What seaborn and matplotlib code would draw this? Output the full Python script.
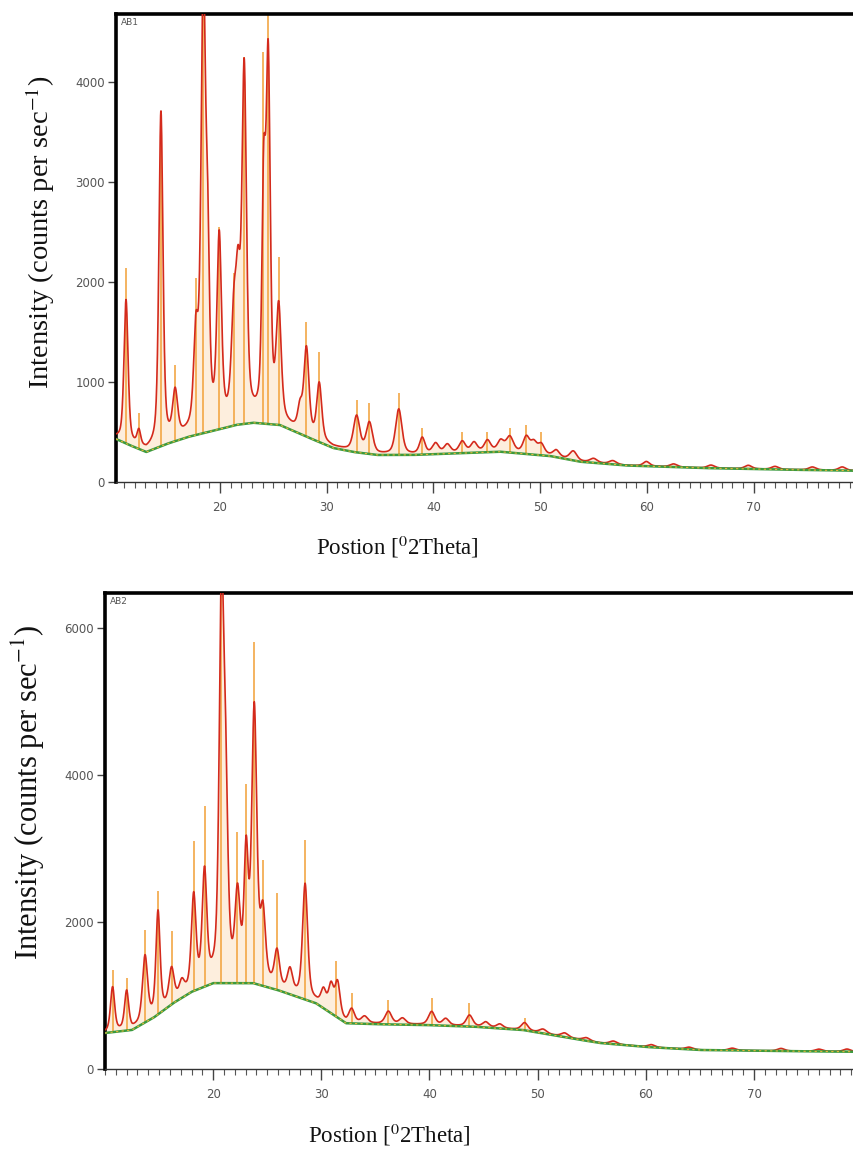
import numpy as np
import pandas as pd
import matplotlib
matplotlib.use("Agg")
import matplotlib.pyplot as plt
from matplotlib.ticker import MultipleLocator
import seaborn as sns

# ---------------- AB1 data ----------------
ab1_bg_pos = [10.0, 10.26, 11.5, 13.1, 15.0, 17.0, 19.7, 21.5, 23.1, 25.6, 28.1, 30.6, 32.5, 34.7,
              38.0, 42.0, 46.2, 50.9, 53.7, 58.0, 65.0, 72.0, 80.0]
ab1_bg_val = [440, 430, 370, 300, 380, 450, 520, 570, 592, 570, 453, 340, 300, 270,
              270, 285, 303, 260, 203, 165, 140, 125, 112]
ab1_peak_pos = [11.2, 12.4, 14.47, 15.8, 17.75, 18.44, 18.85, 19.93, 21.3, 21.7, 22.27, 24.1, 24.52,
                25.5, 27.5, 28.1, 29.3, 32.8, 34.0, 36.75, 38.95, 40.2, 41.3, 42.7, 43.8, 45.06,
                46.3, 47.15, 48.7, 49.4, 50.1, 51.5, 53.1, 55.0, 56.8, 59.95, 62.5, 66.0, 69.5,
                72.0, 75.5, 78.3]
ab1_peak_net = [1420, 150, 3320, 450, 900, 4400, 1500, 1840, 950, 1150, 3450, 2200, 3500,
                1100, 220, 850, 560, 350, 300, 450, 160, 100, 85, 110, 95, 110,
                100, 150, 160, 110, 100, 65, 90, 40, 35, 45, 30, 30, 35,
                30, 30, 35]
ab1_peak_fwhm = [0.45, 0.40, 0.45, 0.55, 0.50, 0.50, 0.40, 0.50, 0.55, 0.50, 0.50, 0.40, 0.45,
                 0.55, 0.50, 0.55, 0.55, 0.70, 0.70, 0.70, 0.60, 0.70, 0.70, 0.70, 0.70, 0.70,
                 0.70, 0.80, 0.70, 0.70, 0.70, 0.70, 0.80, 0.80, 0.80, 0.70, 0.80, 0.80, 0.80,
                 0.80, 0.80, 0.80]
ab1_stick_pos = [11.2, 12.4, 14.47, 15.8, 17.75, 18.44, 19.93, 21.3, 22.27, 24.05, 24.52, 25.5,
                 28.1, 29.3, 32.8, 34.0, 36.75, 38.95, 42.7, 45.06, 47.15, 48.7, 50.1]
ab1_stick_top = [2135, 686, 3700, 1169, 2035, 4700, 2550, 2085, 4250, 4300, 4700, 2250,
                 1600, 1300, 820, 790, 886, 536, 503, 503, 536, 570, 503]

# ---------------- AB2 data ----------------
ab2_bg_pos = [10.0, 10.3, 12.5, 14.5, 16.3, 18.0, 20.0, 23.7, 25.9, 29.5, 32.3, 35.0, 39.4,
              44.0, 48.6, 52.9, 55.7, 60.0, 64.9, 72.0, 80.0]
ab2_bg_val = [490, 495, 532, 700, 896, 1050, 1169, 1169, 1078, 896, 623, 610, 600,
              577, 532, 423, 355, 300, 259, 245, 234]
ab2_peak_pos = [10.7, 12.0, 13.7, 14.9, 16.15, 17.1, 18.2, 19.2, 20.77, 21.15, 22.25, 23.05, 23.8,
                24.6, 25.9, 27.1, 28.5, 30.2, 30.9, 31.5, 32.8, 34.0, 36.2, 37.5, 40.2, 41.5,
                43.7, 45.2, 46.5, 48.8, 50.5, 52.5, 54.5, 57.0, 60.5, 64.0, 68.0, 72.5, 76.0, 78.6]
ab2_peak_net = [600, 520, 880, 1370, 450, 180, 1250, 1500, 5100, 2300, 1100, 1650, 3660,
                900, 480, 300, 1550, 220, 350, 450, 180, 90, 170, 80, 180, 90,
                150, 70, 55, 100, 55, 55, 40, 40, 35, 30, 30, 35, 30, 35]
ab2_peak_fwhm = [0.45, 0.45, 0.55, 0.45, 0.55, 0.55, 0.50, 0.50, 0.50, 0.50, 0.55, 0.45, 0.55,
                 0.55, 0.55, 0.55, 0.55, 0.55, 0.55, 0.55, 0.60, 0.70, 0.70, 0.70, 0.70, 0.70,
                 0.70, 0.70, 0.70, 0.70, 0.80, 0.80, 0.80, 0.80, 0.80, 0.80, 0.80, 0.80, 0.80, 0.80]
ab2_stick_pos = [10.7, 12.0, 13.7, 14.9, 16.15, 18.25, 19.2, 20.77, 22.25, 23.0, 23.8, 24.6,
                 25.9, 28.5, 31.4, 32.8, 36.2, 40.2, 43.7, 48.8]
ab2_stick_top = [1350, 1236, 1896, 2420, 1873, 3100, 3580, 6500, 3220, 3875, 5810, 2851,
                 2397, 3120, 1464, 1032, 941, 964, 896, 692]

AX_LABEL_X = "Postion [$^{0}$2Theta]"
AX_LABEL_Y = "Intensity (counts per sec$^{-1}$)"


def profile(x, bg_pos, bg_val, pos, net, fwhm, eta=0.5):
    bg = np.interp(x, bg_pos, bg_val)
    y = bg.copy()
    for p, h, w in zip(pos, net, fwhm):
        d = (x - p) / (w / 2)
        g = np.exp(-np.log(2) * d ** 2)
        l = 1.0 / (1.0 + d ** 2)
        y += h * (eta * l + (1 - eta) * g)
    return bg, y


sns.set_theme(style="ticks")
plt.rcParams["mathtext.fontset"] = "stix"
plt.rcParams["font.family"] = ["DejaVu Sans"]

fig = plt.figure(figsize=(8.54, 11.53), dpi=100)
W, H = 854, 1153


def make_axes(left_px, top_px, bottom_px):
    return fig.add_axes([left_px / W, 1 - bottom_px / H, 1 - left_px / W, (bottom_px - top_px) / H])


ax1 = make_axes(116, 14, 482)
ax2 = make_axes(105, 593, 1069)

x = np.arange(10.0, 80.0, 0.02)

panels = [
    (ax1, "AB1", ab1_bg_pos, ab1_bg_val, ab1_peak_pos, ab1_peak_net, ab1_peak_fwhm,
     ab1_stick_pos, ab1_stick_top, (10.26, 79.4), 4675, [0, 1000, 2000, 3000, 4000],
     (-0.080, 0.533), (0.381, -0.110), 20.5),
    (ax2, "AB2", ab2_bg_pos, ab2_bg_val, ab2_peak_pos, ab2_peak_net, ab2_peak_fwhm,
     ab2_stick_pos, ab2_stick_top, (10.0, 79.25), 6480, [0, 2000, 4000, 6000],
     (-0.077, 0.582), (0.38, -0.110), 22),
]

for (ax, name, bgp, bgv, pp, pn, pw, sp, st, xlim, ytop, yticks, ylab_xy, xlab_xy, yfs) in panels:
    bg, y = profile(x, bgp, bgv, pp, pn, pw)
    df = pd.DataFrame({"pos": x, "counts": y, "bg": bg})
    ax.fill_between(df["pos"], df["bg"], df["counts"], color="#f9c98f", alpha=0.3, lw=0)
    bg_at = np.interp(sp, bgp, bgv)
    ax.vlines(sp, bg_at, st, color="#f2a541", lw=1.3, alpha=0.9, zorder=2)
    sns.lineplot(data=df, x="pos", y="counts", ax=ax, color="#d42a1c", lw=1.2,
                 zorder=3, estimator=None, sort=False)
    sns.lineplot(data=df, x="pos", y="bg", ax=ax, color="#3a9a3e", lw=1.8,
                 zorder=4, estimator=None, sort=False)
    ax.plot(df["pos"], df["bg"], color="#e9b73a", lw=0.8, ls=(0, (2, 3)), zorder=5)

    ax.set_xlim(*xlim)
    ax.set_ylim(0, ytop)
    ax.set_yticks(yticks)
    ax.xaxis.set_major_locator(MultipleLocator(10))
    ax.xaxis.set_minor_locator(MultipleLocator(1))
    ax.set_xticks([20, 30, 40, 50, 60, 70])

    for s in ["left", "top"]:
        ax.spines[s].set_linewidth(2.6)
        ax.spines[s].set_color("black")
    ax.spines["bottom"].set_linewidth(1.0)
    ax.spines["bottom"].set_color("#333333")
    ax.spines["right"].set_visible(False)

    ax.tick_params(axis="x", which="major", length=8, width=1.0, color="#444444",
                   labelsize=8.5, labelcolor="#555555", pad=6)
    ax.tick_params(axis="x", which="minor", length=4, width=0.8, color="#555555")
    ax.tick_params(axis="y", which="major", length=6, width=1.0, color="#444444",
                   labelsize=8.5, labelcolor="#555555", pad=2)

    ax.set_xlabel(AX_LABEL_X, family=["Liberation Serif", "DejaVu Serif"], fontsize=16.5,
                  color="#111111")
    ax.set_ylabel(AX_LABEL_Y, family=["Liberation Serif", "DejaVu Serif"], fontsize=yfs,
                  color="#111111")
    ax.yaxis.set_label_coords(*ylab_xy)
    ax.xaxis.set_label_coords(*xlab_xy)
    ax.text(0.006, 0.992, name, transform=ax.transAxes, ha="left", va="top",
            fontsize=6.5, color="#555555")
    ax.grid(False)

fig.savefig("out.png", dpi=100)
